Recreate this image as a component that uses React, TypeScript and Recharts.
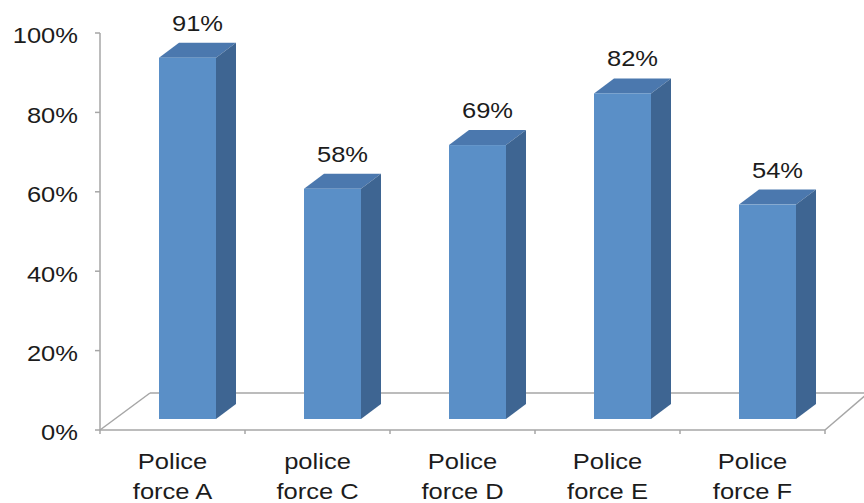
import React from 'react';
import { BarChart, Bar, XAxis, YAxis, LabelList, ReferenceLine } from 'recharts';

const categoryLine1 = ['Police', 'police', 'Police', 'Police', 'Police'];
const categoryLine2 = ['force A', 'force C', 'force D', 'force E', 'force F'];
const values = [91, 58, 69, 82, 54];
const yTicks = [0, 20, 40, 60, 80, 100];

const data = values.map((v, i) => ({
  name: categoryLine1[i] + '\n' + categoryLine2[i],
  value: v,
}));

const FONT = '"Liberation Sans", Arial, Helvetica, sans-serif';
const TEXT = '#1c1c1c';
const AXIS = '#a6a6a6';
const SX = 1.16;

// 3D geometry
const OFF_X = 15;
const OFF_Y = 11;
const DEP_X = 20;
const DEP_Y = 15;
const FLOOR_LX = 50;
const FLOOR_DY = 37;
const FLOOR_RX = 43;

const FRONT = '#5a8fc7';
const SIDE = '#3e6592';
const TOP = '#4b78ae';

const Bar3D = (props: any) => {
  const { x, y, width, height } = props;
  if (height == null || width == null) return null;
  const fx = x + OFF_X;
  const fy = y - OFF_Y;
  const bx = fx + width;
  const by = fy + height;
  return (
    <g>
      <polygon
        points={`${fx},${fy} ${fx + DEP_X},${fy - DEP_Y} ${bx + DEP_X},${fy - DEP_Y} ${bx},${fy}`}
        fill={TOP}
      />
      <polygon
        points={`${bx},${fy} ${bx + DEP_X},${fy - DEP_Y} ${bx + DEP_X},${by - DEP_Y} ${bx},${by}`}
        fill={SIDE}
      />
      <rect x={fx} y={fy} width={width} height={height} fill={FRONT} />
    </g>
  );
};

const ValueLabel = (props: any) => {
  const { x, y, width, value } = props;
  const cx = x + OFF_X + width / 2 + DEP_X / 2;
  const by = y - 38;
  return (
    <text
      transform={`translate(${cx},${by}) scale(${SX},1)`}
      textAnchor="middle"
      fontSize={22}
      fontFamily={FONT}
      fill={TEXT}
    >
      {value}%
    </text>
  );
};

const YTick = (props: any) => {
  const { x, y, payload } = props;
  return (
    <text
      transform={`translate(${x},${y + 10.4}) scale(${SX},1)`}
      textAnchor="end"
      fontSize={22}
      fontFamily={FONT}
      fill={TEXT}
    >
      {payload.value}%
    </text>
  );
};

const XTick = (props: any) => {
  const { x, y, index } = props;
  return (
    <g>
      <text
        transform={`translate(${x},${y + 39}) scale(${SX},1)`}
        textAnchor="middle"
        fontSize={22}
        fontFamily={FONT}
        fill={TEXT}
      >
        {categoryLine1[index]}
      </text>
      <text
        transform={`translate(${x},${y + 69}) scale(${SX},1)`}
        textAnchor="middle"
        fontSize={22}
        fontFamily={FONT}
        fill={TEXT}
      >
        {categoryLine2[index]}
      </text>
    </g>
  );
};

const Floor = (props: any) => {
  const { x1, y1, x2 } = props;
  const n = categoryLine1.length;
  const step = (x2 - x1) / n;
  const ticks = [];
  for (let i = 0; i <= n; i++) {
    const tx = x1 + step * i;
    ticks.push(<line key={i} x1={tx} y1={y1} x2={tx} y2={y1 + 4} stroke={AXIS} strokeWidth={1.5} />);
  }
  return (
    <g>
      <line x1={x1} y1={y1} x2={x1 + FLOOR_LX} y2={y1 - FLOOR_DY} stroke={AXIS} strokeWidth={1.5} />
      <line x1={x1 + FLOOR_LX} y1={y1 - FLOOR_DY} x2={x2 + FLOOR_RX} y2={y1 - FLOOR_DY} stroke={AXIS} strokeWidth={1.5} />
      <line x1={x2} y1={y1} x2={x2 + FLOOR_RX} y2={y1 - FLOOR_DY} stroke={AXIS} strokeWidth={1.5} />
      <line x1={x1} y1={y1} x2={x2} y2={y1} stroke={AXIS} strokeWidth={1.5} />
      {ticks}
    </g>
  );
};

export default function App() {
  return (
    <div style={{ position: 'absolute', left: 0, top: 0, width: 864, height: 503, background: '#fff', overflow: 'hidden' }}>
      <BarChart
        width={864}
        height={503}
        data={data}
        margin={{ top: 33, right: 39, bottom: 0, left: 0 }}
        style={{ overflow: 'visible' }}
      >
        <ReferenceLine y={0} shape={Floor} zIndex={-100} ifOverflow="visible" />
        <YAxis
          type="number"
          domain={[0, 100]}
          ticks={yTicks}
          width={100}
          tickSize={5}
          tickMargin={17}
          axisLine={{ stroke: AXIS, strokeWidth: 1.5 }}
          tickLine={{ stroke: AXIS, strokeWidth: 1.5 }}
          tick={YTick}
          interval={0}
        />
        <XAxis
          dataKey="name"
          height={73}
          tickSize={0}
          tickMargin={0}
          axisLine={false}
          tickLine={false}
          tick={XTick}
          interval={0}
        />
        <Bar dataKey="value" barSize={57} shape={Bar3D} isAnimationActive={false}>
          <LabelList dataKey="value" content={ValueLabel} />
        </Bar>
      </BarChart>
    </div>
  );
}
